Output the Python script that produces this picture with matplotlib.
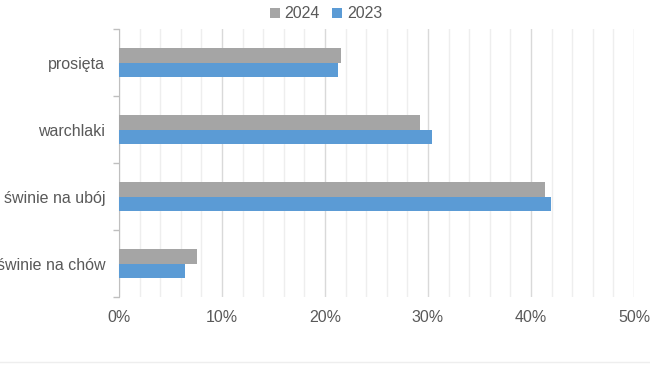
import matplotlib
matplotlib.use("Agg")
import matplotlib.pyplot as plt
import numpy as np
from matplotlib.ticker import FixedLocator, FuncFormatter, MultipleLocator
from matplotlib.lines import Line2D

categories = ["prosięta", "warchlaki", "świnie na ubój", "świnie na chów"]
values_2024 = [21.6, 29.2, 41.4, 7.6]
values_2023 = [21.3, 30.4, 41.9, 6.4]
series_names = ["2024", "2023"]
xticks = [0, 10, 20, 30, 40, 50]

plt.rcParams['font.family'] = ['Liberation Sans', 'DejaVu Sans']
text_color = "#595959"

fig = plt.figure(figsize=(6.5, 3.66), dpi=100)
ax = fig.add_axes([119/650, 1-297/366, (634-119)/650, (297-29)/366])

n = len(categories)
y = np.arange(n)
h = 0.215
ax.barh(y - h/2, values_2024, height=h, color="#A5A5A5", label=series_names[0], zorder=3)
ax.barh(y + h/2, values_2023, height=h, color="#5B9BD5", label=series_names[1], zorder=3)

ax.set_ylim(n - 0.5, -0.5)
ax.set_xlim(0, 50)

ax.set_xticks(xticks)
ax.xaxis.set_major_formatter(FuncFormatter(lambda v, p: f"{int(v)}%"))
ax.xaxis.set_minor_locator(MultipleLocator(2))
ax.grid(axis="x", which="major", color="#D9D9D9", linewidth=1.0, zorder=0)
ax.grid(axis="x", which="minor", color="#EEEEEE", linewidth=1.0, zorder=0)
ax.tick_params(axis="x", which="both", length=0, labelsize=11.5, labelcolor=text_color, pad=9)

ax.set_yticks(y)
ax.set_yticklabels(categories)
ax.yaxis.set_minor_locator(FixedLocator(np.arange(-0.5, n, 1.0)))
ax.tick_params(axis="y", which="major", length=0, labelsize=11.5, labelcolor=text_color, pad=10)
ax.tick_params(axis="y", which="minor", length=4, color="#BFBFBF", width=1)

for s in ["top", "right", "bottom"]:
    ax.spines[s].set_visible(False)
ax.spines["left"].set_color("#BFBFBF")

leg = fig.legend(loc="center", bbox_to_anchor=(326/650, 1-14/366), ncol=2, frameon=False,
                 fontsize=11.5, handlelength=0.6, handleheight=0.6, handletextpad=0.3,
                 columnspacing=0.8, labelcolor=text_color)

fig.add_artist(Line2D([0, 1], [1-362/366, 1-362/366], color="#EEEEEE", linewidth=1, transform=fig.transFigure))

fig.savefig("out.png", dpi=100)
